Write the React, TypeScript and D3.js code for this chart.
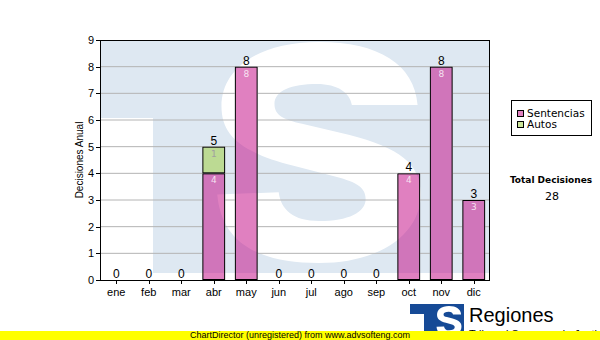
import React from "react";
import * as d3 from "d3";

const months = ["ene", "feb", "mar", "abr", "may", "jun", "jul", "ago", "sep", "oct", "nov", "dic"];
const sentencias = [0, 0, 0, 4, 8, 0, 0, 0, 0, 4, 8, 3];
const autos = [0, 0, 0, 1, 0, 0, 0, 0, 0, 0, 0, 0];
const yTicks = [0, 1, 2, 3, 4, 5, 6, 7, 8, 9];
const seriesNames = ["Sentencias", "Autos"];
const seriesColors = ["rgba(193,1,129,0.5)", "rgba(153,204,51,0.5)"];
const yTitle = "Decisiones Anual";
const totalLabel = "Total Decisiones";
const footer = "ChartDirector (unregistered) from www.advsofteng.com";

const W = 600, H = 340;
const L = 100, R = 490, T = 40, B = 280;

const x = d3.scaleBand<string>().domain(months).range([L, R]).paddingInner(0.3).paddingOuter(0.15);
const y = d3.scaleLinear().domain([0, 9]).range([B, T]);

const WM_BLUE = "#dee8f2";

// Normalised outline of a bold "S" logo glyph (u,v in 0..1)
const S_SHAPE: [string, number[]][] = [
  ["M", [0.965, 0.285]],
  ["C", [0.95, 0.10, 0.78, 0.0, 0.50, 0.0]],
  ["C", [0.20, 0.0, 0.04, 0.13, 0.04, 0.29]],
  ["C", [0.04, 0.43, 0.14, 0.50, 0.38, 0.56]],
  ["L", [0.58, 0.61]],
  ["C", [0.68, 0.635, 0.72, 0.66, 0.72, 0.71]],
  ["C", [0.72, 0.77, 0.64, 0.81, 0.50, 0.81]],
  ["C", [0.38, 0.81, 0.32, 0.76, 0.31, 0.68]],
  ["L", [0.02, 0.69]],
  ["C", [0.04, 0.90, 0.20, 1.0, 0.50, 1.0]],
  ["C", [0.80, 1.0, 0.98, 0.86, 0.98, 0.69]],
  ["C", [0.98, 0.55, 0.88, 0.48, 0.64, 0.42]],
  ["L", [0.42, 0.37]],
  ["C", [0.33, 0.35, 0.29, 0.33, 0.29, 0.28]],
  ["C", [0.29, 0.22, 0.37, 0.19, 0.49, 0.19]],
  ["C", [0.59, 0.19, 0.645, 0.23, 0.655, 0.285]],
];

function sPath(x0: number, y0: number, w: number, h: number) {
  const p = d3.path();
  const X = (u: number) => x0 + u * w;
  const Y = (v: number) => y0 + v * h;
  for (const [cmd, a] of S_SHAPE) {
    if (cmd === "M") p.moveTo(X(a[0]), Y(a[1]));
    else if (cmd === "L") p.lineTo(X(a[0]), Y(a[1]));
    else p.bezierCurveTo(X(a[0]), Y(a[1]), X(a[2]), Y(a[3]), X(a[4]), Y(a[5]));
  }
  p.closePath();
  return p.toString();
}

function Watermark() {
  return (
    <g>
      <path d={`M${L + 1},${T + 1} H${R} V273 H153 V118 H${L + 1} Z`} fill={WM_BLUE} />
      <path d={sPath(213, 42, 212, 221)} fill="#ffffff" />
    </g>
  );
}

export default function App() {
  const total = d3.sum(sentencias) + d3.sum(autos);
  const bw = x.bandwidth();
  const stacks = months.map((m, i) => {
    const s0 = 0, s1 = sentencias[i], a1 = sentencias[i] + autos[i];
    return { m, i, s0, s1, a1 };
  });
  return (
    <svg width={W} height={H} style={{ position: "absolute", left: 0, top: 0, background: "#fff" }} fontFamily="Liberation Sans, Arial, sans-serif">
      <defs>
        <clipPath id="barsClip">
          {stacks.filter(s => s.a1 > 0).map(s => (
            <rect key={s.m} x={x(s.m)} y={y(s.a1)} width={bw} height={y(0) - y(s.a1)} />
          ))}
        </clipPath>
        <clipPath id="bottomClip">
          <rect x={0} y={0} width={W} height={331} />
        </clipPath>
      </defs>
      <rect x={0} y={0} width={W} height={H} fill="#fff" />
      <Watermark />
      {yTicks.filter(t => t > 0 && t < 9).map(t => (
        <line key={t} x1={L} x2={R} y1={y(t)} y2={y(t)} stroke="#b4b4b4" strokeWidth={1} />
      ))}
      <g clipPath="url(#barsClip)">
        <rect x={0} y={0} width={W} height={H} fill="#fff" />
        <Watermark />
      </g>
      {stacks.map(s => (
        <g key={s.m}>
          {s.s1 > 0 && (
            <rect x={x(s.m)! + 0.5} y={y(s.s1) + 0.5} width={bw - 1} height={y(s.s0) - y(s.s1) - 1} fill={seriesColors[0]} stroke="#000" strokeWidth={1} />
          )}
          {s.a1 > s.s1 && (
            <rect x={x(s.m)! + 0.5} y={y(s.a1) + 0.5} width={bw - 1} height={y(s.s1) - y(s.a1) - 1} fill={seriesColors[1]} stroke="#000" strokeWidth={1} />
          )}
          {s.s1 > 0 && (
            <text x={x(s.m)! + bw / 2} y={y(s.s1) + 10} textAnchor="middle" fontSize={9} fontFamily="DejaVu Sans, sans-serif" fill="rgba(255,255,255,0.8)">{sentencias[s.i]}</text>
          )}
          {s.a1 > s.s1 && (
            <text x={x(s.m)! + bw / 2} y={y(s.a1) + 10} textAnchor="middle" fontSize={9} fontFamily="DejaVu Sans, sans-serif" fill="#a0a0a0">{autos[s.i]}</text>
          )}
          <text x={x(s.m)! + bw / 2} y={y(s.a1) - 2} textAnchor="middle" fontSize={12} fill="#000">{s.a1}</text>
        </g>
      ))}
      {/* frame */}
      <rect x={L + 0.5} y={T + 0.5} width={R - L - 1} height={B - T} fill="none" stroke="#000" strokeWidth={1} />
      {/* y ticks */}
      {yTicks.map(t => (
        <g key={t}>
          <line x1={L - 4} x2={L} y1={Math.round(y(t)) + 0.5} y2={Math.round(y(t)) + 0.5} stroke="#000" />
          <text x={L - 6} y={y(t) + 4} textAnchor="end" fontSize={11} fill="#000">{t}</text>
        </g>
      ))}
      {months.map(m => (
        <g key={m}>
          <line x1={Math.round(x(m)! + bw / 2) + 0.5} x2={Math.round(x(m)! + bw / 2) + 0.5} y1={B} y2={B + 4} stroke="#000" />
          <text x={x(m)! + bw / 2} y={B + 16} textAnchor="middle" fontSize={11} fill="#000">{m}</text>
        </g>
      ))}
      <text transform={`translate(83,${(T + B) / 2}) rotate(-90)`} textAnchor="middle" fontSize={10} fill="#000">{yTitle}</text>
      {/* legend */}
      <rect x={511.5} y={100.5} width={80} height={35} fill="#fff" stroke="#000" />
      {seriesNames.map((n, i) => (
        <g key={n}>
          <rect x={517.5} y={110.5 + i * 11} width={6} height={6} fill={seriesColors[i]} stroke="#000" />
          <text x={527} y={117 + i * 11} fontSize={10.5} fontFamily="DejaVu Sans, sans-serif" fill="#000">{n}</text>
        </g>
      ))}
      <text x={551} y={183} textAnchor="middle" fontSize={9} fontWeight="bold" fontFamily="DejaVu Sans, sans-serif" fill="#000">{totalLabel}</text>
      <text x={552} y={200} textAnchor="middle" fontSize={11} fontFamily="DejaVu Sans, sans-serif" fill="#000">{total}</text>
      {/* logo */}
      <g clipPath="url(#bottomClip)">
        <path d="M410,304 H464 V331 H424 V314 H410 Z" fill="#164a96" />
        <path d={sPath(436, 306, 26, 30)} fill="#fff" />
        <text x={469} y={322} fontSize={20} fill="#000">Regiones</text>
        <text x={469} y={338} fontSize={11} fill="#000">Tribunal Supremo de Justicia</text>
      </g>
      <rect x={0} y={331} width={W} height={9} fill="#ffff00" />
      <text x={300} y={338} textAnchor="middle" fontSize={9} fill="#000">{footer}</text>
    </svg>
  );
}
